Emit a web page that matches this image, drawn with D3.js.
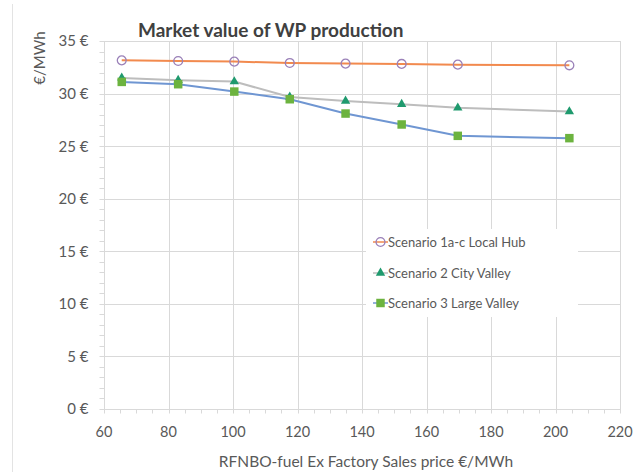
<!DOCTYPE html>
<html>
<head>
<meta charset="utf-8">
<script src="https://cdn.jsdelivr.net/npm/d3@7"></script>
<style>
  html, body { margin: 0; padding: 0; background: #fff; }
  svg { display: block; font-family: Lato, "Open Sans", sans-serif; }
</style>
</head>
<body>
<svg id="chart" width="640" height="472"></svg>
<script>
// Sales price of the RFNBO fuel (€/MWh) for each run
const salesPrice = [65.5, 83.0, 100.4, 117.6, 134.9, 152.3, 169.7, 204.3];

// Market value of WP production (€/MWh) per scenario
const scenario1 = [33.16, 33.10, 33.04, 32.91, 32.85, 32.82, 32.75, 32.69];
const scenario2 = [31.49, 31.27, 31.14, 29.68, 29.30, 28.99, 28.64, 28.29];
const scenario3 = [31.11, 30.89, 30.19, 29.46, 28.10, 27.06, 25.98, 25.76];

const seriesNames = ["Scenario 1a-c Local Hub", "Scenario 2 City Valley", "Scenario 3 Large Valley"];
const xTicks = [60, 80, 100, 120, 140, 160, 180, 200, 220];
const yTicks = [0, 5, 10, 15, 20, 25, 30, 35];

const svg = d3.select("#chart");
const plotLeft = 104, plotRight = 620, plotTop = 41, plotBottom = 409;

const x = d3.scaleLinear().domain([60, 220]).range([plotLeft, plotRight]);
const y = d3.scaleLinear().domain([0, 35]).range([plotBottom, plotTop]);

const gridColor = "#d9d9d9";
const labelColor = "#595959";

// outer frame edge on the left
svg.append("line").attr("x1", 12.5).attr("x2", 12.5).attr("y1", 4).attr("y2", 472)
  .attr("stroke", "#e3e3e3").attr("stroke-width", 1);

// gridlines
const grid = svg.append("g");
grid.selectAll("line.h").data(yTicks.filter(d => d > 0)).join("line")
  .attr("x1", plotLeft).attr("x2", plotRight)
  .attr("y1", d => Math.round(y(d)) + 0.5).attr("y2", d => Math.round(y(d)) + 0.5)
  .attr("stroke", gridColor);
grid.selectAll("line.v").data(xTicks.filter(d => d > 60)).join("line")
  .attr("y1", plotTop).attr("y2", plotBottom + 4)
  .attr("x1", d => Math.round(x(d)) + 0.5).attr("x2", d => Math.round(x(d)) + 0.5)
  .attr("stroke", gridColor);

// axes with minor ticks
const xAxis = svg.append("g").attr("transform", `translate(0,${Math.round(plotBottom) + 0.5})`);
xAxis.append("line").attr("x1", plotLeft).attr("x2", plotRight).attr("stroke", gridColor);
xAxis.selectAll("line.tick").data(d3.range(60, 221, 5)).join("line")
  .attr("x1", d => Math.round(x(d)) + 0.5).attr("x2", d => Math.round(x(d)) + 0.5)
  .attr("y1", 0).attr("y2", 4).attr("stroke", gridColor);
xAxis.selectAll("text").data(xTicks).join("text")
  .attr("x", d => x(d)).attr("y", 27)
  .attr("text-anchor", "middle").attr("fill", labelColor)
  .attr("font-size", 14.5).text(d => d);

const yAxis = svg.append("g").attr("transform", `translate(${Math.round(plotLeft) + 0.5},0)`);
yAxis.append("line").attr("y1", plotTop).attr("y2", plotBottom).attr("stroke", gridColor);
yAxis.selectAll("line.tick").data(d3.range(0, 36, 1)).join("line")
  .attr("y1", d => Math.round(y(d)) + 0.5).attr("y2", d => Math.round(y(d)) + 0.5)
  .attr("x1", -5).attr("x2", 0).attr("stroke", gridColor);
yAxis.selectAll("text").data(yTicks).join("text")
  .attr("x", -16).attr("y", d => y(d)).attr("dy", "0.36em")
  .attr("text-anchor", "end").attr("fill", labelColor)
  .attr("font-size", 15).text(d => `${d} €`);

// titles
svg.append("text").attr("x", 138).attr("y", 37)
  .attr("font-size", 19).attr("font-weight", "bold").attr("fill", "#404040")
  .text("Market value of WP production");
svg.append("text").attr("transform", "translate(45,58) rotate(-90)")
  .attr("text-anchor", "middle").attr("font-size", 15).attr("fill", labelColor)
  .text("€/MWh");
svg.append("text").attr("x", 366).attr("y", 467)
  .attr("text-anchor", "middle").attr("font-size", 15.5).attr("fill", labelColor)
  .text("RFNBO-fuel Ex Factory Sales price €/MWh");

// series
const series = [
  { name: seriesNames[0], values: scenario1, line: "#f28a4e", marker: "circle", fill: "none", stroke: "#9a80b8" },
  { name: seriesNames[1], values: scenario2, line: "#bdbdbd", marker: "triangle", fill: "#1f9a6e", stroke: "none" },
  { name: seriesNames[2], values: scenario3, line: "#6f96d2", marker: "square", fill: "#6cb33f", stroke: "none" }
];

const lineGen = d3.line().x(d => x(d[0])).y(d => y(d[1]));
const symbolPath = {
  circle: d3.symbol().type(d3.symbolCircle).size(62)(),
  triangle: d3.symbol().type(d3.symbolTriangle).size(38)(),
  square: d3.symbol().type(d3.symbolSquare).size(72)()
};

function drawMarker(g, s, cx, cy) {
  g.append("path").attr("d", symbolPath[s.marker])
    .attr("transform", `translate(${cx},${cy})`)
    .attr("fill", s.fill).attr("stroke", s.stroke).attr("stroke-width", 1.3);
}

series.forEach(s => {
  const pts = salesPrice.map((p, i) => [p, s.values[i]]);
  svg.append("path").datum(pts).attr("d", lineGen)
    .attr("fill", "none").attr("stroke", s.line).attr("stroke-width", 2);
  const g = svg.append("g");
  pts.forEach(p => drawMarker(g, s, x(p[0]), y(p[1])));
});

// legend
const legend = svg.append("g");
legend.append("rect").attr("x", 366).attr("y", 229).attr("width", 212).attr("height", 88).attr("fill", "#fff");
const legendRows = [242, 273, 303];
series.forEach((s, i) => {
  const ly = legendRows[i];
  legend.append("line").attr("x1", 373).attr("x2", 388).attr("y1", ly).attr("y2", ly)
    .attr("stroke", s.line).attr("stroke-width", 1.5);
  drawMarker(legend, s, 380.5, ly);
  legend.append("text").attr("x", 388).attr("y", ly).attr("dy", "0.36em")
    .attr("font-size", 13).attr("fill", labelColor).text(s.name);
});
</script>
</body>
</html>
